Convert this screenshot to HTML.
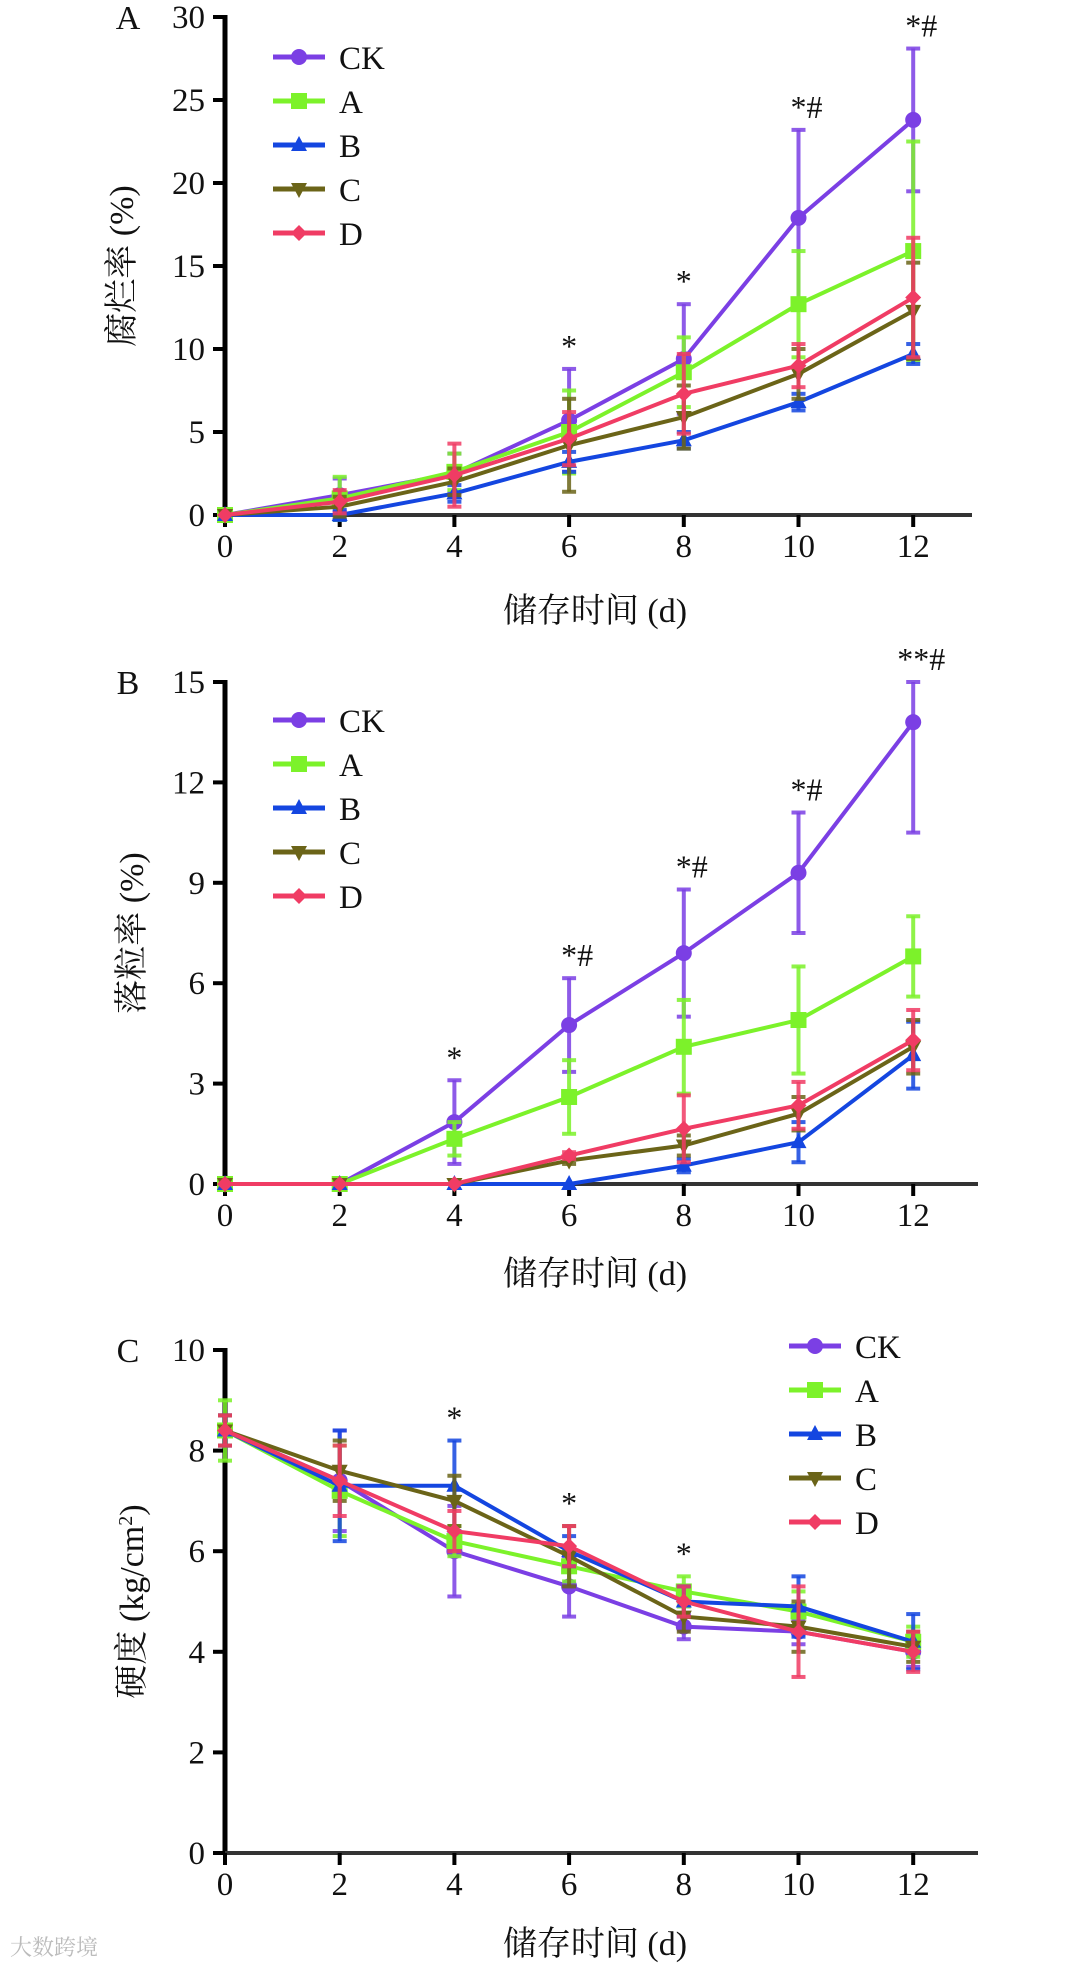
<!DOCTYPE html>
<html><head><meta charset="utf-8"><style>
html,body{margin:0;padding:0;background:#fff;}
svg{display:block;}
text{font-family:"Liberation Serif","Noto Serif CJK SC",serif;fill:#111;}
</style></head><body>
<svg id="chart" width="1080" height="1965" viewBox="0 0 1080 1965" xmlns="http://www.w3.org/2000/svg"></svg>
<script>
const days = [0, 2, 4, 6, 8, 10, 12];
const seriesNames = ["CK", "A", "B", "C", "D"];
// Panel A: 腐烂率
const rotCK = [0, 1.2, 2.5, 5.7, 9.4, 17.9, 23.8];
const rotA = [0, 1.0, 2.6, 5.0, 8.6, 12.7, 15.9];
const rotB = [0, 0, 1.3, 3.2, 4.5, 6.8, 9.7];
const rotC = [0, 0.5, 2.0, 4.2, 5.9, 8.5, 12.3];
const rotD = [0, 0.8, 2.4, 4.6, 7.3, 9.0, 13.1];
const rotErrCK = [0, 1.0, 1.2, 3.1, 3.3, 5.3, 4.3];
const rotErrA = [0, 1.3, 1.1, 2.5, 2.1, 3.2, 6.6];
const rotErrB = [0, 0.3, 0.5, 0.6, 0.5, 0.5, 0.6];
const rotErrC = [0, 0.6, 0.8, 2.8, 1.9, 1.5, 2.9];
const rotErrD = [0, 0.7, 1.9, 1.6, 2.4, 1.3, 3.6];
const rotTicks = [0, 5, 10, 15, 20, 25, 30];
const rotMarks = [[6, "*"], [8, "*"], [10, "*#"], [12, "*#"]];
// Panel B: 落粒率
const dropCK = [0, 0, 1.85, 4.75, 6.9, 9.3, 13.8];
const dropA = [0, 0, 1.35, 2.6, 4.1, 4.9, 6.8];
const dropB = [0, 0, 0, 0, 0.55, 1.25, 3.85];
const dropC = [0, 0, 0, 0.7, 1.15, 2.1, 4.1];
const dropD = [0, 0, 0, 0.85, 1.65, 2.35, 4.3];
const dropErrCK = [0, 0, 1.25, 1.4, 1.9, 1.8, 3.3];
const dropErrA = [0, 0, 0.5, 1.1, 1.4, 1.6, 1.2];
const dropErrB = [0, 0, 0, 0, 0.2, 0.6, 1.0];
const dropErrC = [0, 0, 0, 0.1, 0.3, 0.5, 0.8];
const dropErrD = [0, 0, 0, 0.1, 1.0, 0.7, 0.9];
const dropTicks = [0, 3, 6, 9, 12, 15];
const dropMarks = [[4, "*"], [6, "*#"], [8, "*#"], [10, "*#"], [12, "**#"]];
// Panel C: 硬度
const hardCK = [8.4, 7.4, 6.0, 5.3, 4.5, 4.4, 4.0];
const hardA = [8.4, 7.2, 6.2, 5.7, 5.2, 4.8, 4.2];
const hardB = [8.4, 7.3, 7.3, 6.0, 5.0, 4.9, 4.2];
const hardC = [8.4, 7.6, 7.0, 5.9, 4.7, 4.5, 4.1];
const hardD = [8.4, 7.4, 6.4, 6.1, 5.0, 4.4, 4.0];
const hardErrCK = [0.3, 1.0, 0.9, 0.6, 0.25, 0.25, 0.3];
const hardErrA = [0.6, 0.9, 0.3, 0.3, 0.3, 0.4, 0.3];
const hardErrB = [0.3, 1.1, 0.9, 0.3, 0.3, 0.6, 0.55];
const hardErrC = [0.3, 0.6, 0.5, 0.6, 0.3, 0.5, 0.3];
const hardErrD = [0.3, 0.7, 0.4, 0.4, 0.3, 0.9, 0.4];
const hardTicks = [0, 2, 4, 6, 8, 10];
const hardMarks = [[4, "*"], [6, "*"], [8, "*"]];

const colors = ["#7b3fe4", "#7cf22a", "#1446e0", "#6b6418", "#f03c64"];
const markers = ["circle", "square", "tri-up", "tri-down", "diamond"];
const NS = "http://www.w3.org/2000/svg";
const svg = document.getElementById("chart");
function mk(tag, attrs, parent) {
  const e = document.createElementNS(NS, tag);
  for (const k in attrs) e.setAttribute(k, attrs[k]);
  (parent || svg).appendChild(e);
  return e;
}
function marker(g, type, cx, cy, color) {
  const r = 8;
  let m;
  if (type === "circle") m = mk("circle", {cx: cx, cy: cy, r: r, fill: color}, g);
  else if (type === "square") m = mk("rect", {x: cx - r, y: cy - r, width: 2 * r, height: 2 * r, fill: color}, g);
  else if (type === "tri-up") m = mk("polygon", {points: `${cx},${cy - r - 1} ${cx - r},${cy + r - 2} ${cx + r},${cy + r - 2}`, fill: color}, g);
  else if (type === "tri-down") m = mk("polygon", {points: `${cx},${cy + r + 1} ${cx - r},${cy - r + 2} ${cx + r},${cy - r + 2}`, fill: color}, g);
  else m = mk("polygon", {points: `${cx},${cy - r} ${cx + r},${cy} ${cx},${cy + r} ${cx - r},${cy}`, fill: color}, g);
  return m;
}
function panel(p) {
  const x0 = 225, step = 114.7, xEnd = p.xEnd;
  const vMax = p.ticks[p.ticks.length - 1];
  const xs = d => x0 + d / 2 * step;
  const ys = v => p.y0 - (v - p.ticks[0]) / (vMax - p.ticks[0]) * (p.y0 - p.yTop);
  const g = mk("g", {});
  
  
  const L = mk("text", {x: 128, y: p.yTop + 12, "font-size": 34, "text-anchor": "middle"}, g);
  L.textContent = p.letter;
  
  
  const ya = mk("line", {x1: x0, y1: p.yTop - 2, x2: x0, y2: p.y0 + 2, stroke: "#000", "stroke-width": 5}, g);
  
  
  const xa = mk("line", {x1: x0, y1: p.y0, x2: xEnd, y2: p.y0, stroke: "#333", "stroke-width": 4}, g);
  
  
  p.ticks.forEach(t => {
    const y = ys(t);
    mk("line", {x1: x0 - 12, y1: y, x2: x0, y2: y, stroke: "#000", "stroke-width": 4}, g);
    const tl = mk("text", {x: 205, y: y + 11, "font-size": 33, "text-anchor": "end"}, g);
    tl.textContent = t;
    
    
  });
  days.forEach(d => {
    const x = xs(d);
    mk("line", {x1: x, y1: p.y0, x2: x, y2: p.y0 + 12, stroke: "#000", "stroke-width": 4}, g);
    const tl = mk("text", {x: x, y: p.y0 + 42, "font-size": 33, "text-anchor": "middle"}, g);
    tl.textContent = d;
    
    
  });
  const xt = mk("text", {x: 595, y: p.xTitleY, "font-size": 34, "text-anchor": "middle"}, g);
  xt.textContent = "储存时间 (d)";
  
  
  const yt = mk("text", {x: 0, y: 0, "font-size": 34, "text-anchor": "middle", transform: `translate(${p.yTitleX},${(p.yTop + p.y0) / 2}) rotate(-90)`}, g);
  yt.innerHTML = p.yTitle;
  
  
  p.series.forEach((vals, si) => {
    const sg = mk("g", {}, g);
    
    
    const c = colors[si];
    vals.forEach((v, i) => {
      const e = p.errs[si][i];
      if (e > 0) {
        const x = xs(days[i]);
        const hi = Math.min(v + e, vMax), lo = v - e;
        mk("line", {x1: x, y1: ys(lo), x2: x, y2: ys(hi), stroke: c, "stroke-width": 4, opacity: 0.85}, sg);
        mk("line", {x1: x - 7, y1: ys(hi), x2: x + 7, y2: ys(hi), stroke: c, "stroke-width": 4, opacity: 0.85}, sg);
        mk("line", {x1: x - 7, y1: ys(lo), x2: x + 7, y2: ys(lo), stroke: c, "stroke-width": 4, opacity: 0.85}, sg);
      }
    });
    const pts = vals.map((v, i) => xs(days[i]) + "," + ys(v)).join(" ");
    const line = mk("polyline", {points: pts, fill: "none", stroke: c, "stroke-width": 4}, sg);
    
    
    vals.forEach((v, i) => {
      const m = marker(sg, markers[si], xs(days[i]), ys(v), c);
      
      
    });
  });
  p.marks.forEach(([d, s]) => {
    const si = days.indexOf(d);
    let top = 0;
    p.series.forEach((vals, k) => { top = Math.max(top, vals[si] + p.errs[k][si]); });
    top = Math.min(top, vMax);
    const t = mk("text", {x: xs(d) + (s.length > 1 ? 8 : 0), y: ys(top) - 12, "font-size": 32, "text-anchor": "middle"}, g);
    t.textContent = s;
    
    
  });
  const lg = mk("g", {}, g);
  
  
  seriesNames.forEach((n, si) => {
    const y = p.legY + si * 44;
    const eg = mk("g", {}, lg);
    
    
    mk("line", {x1: p.legX, y1: y, x2: p.legX + 52, y2: y, stroke: colors[si], "stroke-width": 5}, eg);
    marker(eg, markers[si], p.legX + 26, y, colors[si]);
    const t = mk("text", {x: p.legX + 66, y: y + 12, "font-size": 33}, eg);
    t.textContent = n;
  });
}
panel({name: "panel-a-rot-rate", letter: "A", ticks: rotTicks, y0: 515, yTop: 17, xEnd: 972, xTitleY: 622, yTitleX: 133,
  yTitle: "腐烂率 (%)", series: [rotCK, rotA, rotB, rotC, rotD], errs: [rotErrCK, rotErrA, rotErrB, rotErrC, rotErrD],
  marks: rotMarks, legX: 273, legY: 57});
panel({name: "panel-b-drop-rate", letter: "B", ticks: dropTicks, y0: 1184, yTop: 682, xEnd: 978, xTitleY: 1285, yTitleX: 143,
  yTitle: "落粒率 (%)", series: [dropCK, dropA, dropB, dropC, dropD], errs: [dropErrCK, dropErrA, dropErrB, dropErrC, dropErrD],
  marks: dropMarks, legX: 273, legY: 720});
panel({name: "panel-c-firmness", letter: "C", ticks: hardTicks, y0: 1853, yTop: 1350, xEnd: 978, xTitleY: 1955, yTitleX: 143,
  yTitle: "硬度 (kg/cm<tspan baseline-shift='super' font-size='20'>2</tspan>)", series: [hardCK, hardA, hardB, hardC, hardD], errs: [hardErrCK, hardErrA, hardErrB, hardErrC, hardErrD],
  marks: hardMarks, legX: 789, legY: 1346});
const wm = mk("text", {x: 10, y: 1955, "font-size": 22, style: "fill:#bbb"});
wm.textContent = "大数跨境";


</script>
</body></html>
